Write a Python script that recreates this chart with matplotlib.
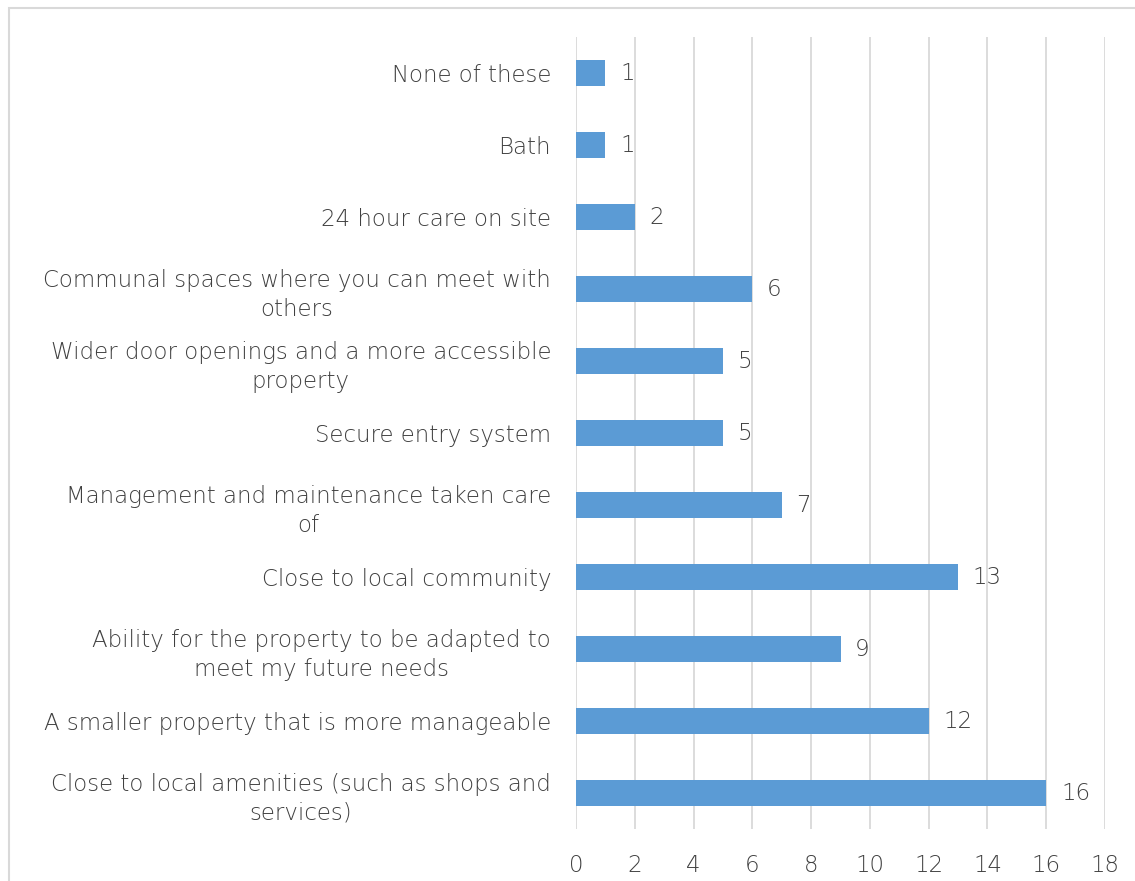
import matplotlib.pyplot as plt
from matplotlib.patches import Rectangle

# survey answers, listed top to bottom as shown
categories = [
    "None of these",
    "Bath",
    "24 hour care on site",
    "Communal spaces where you can meet with\nothers",
    "Wider door openings and a more accessible\nproperty",
    "Secure entry system",
    "Management and maintenance taken care\nof",
    "Close to local community",
    "Ability for the property to be adapted to\nmeet my future needs",
    "A smaller property that is more manageable",
    "Close to local amenities (such as shops and\nservices)",
]
counts = [1, 1, 2, 6, 5, 5, 7, 13, 9, 12, 16]
x_ticks = [0, 2, 4, 6, 8, 10, 12, 14, 16, 18]

bar_color = "#5b9bd5"
text_color = "#404040"
grid_color = "#d9d9d9"

plt.rcParams["font.family"] = ["DejaVu Sans"]
plt.rcParams["font.weight"] = "light"

fig = plt.figure(figsize=(11.35, 8.81), dpi=100)
ax = fig.add_axes([0.5075, 0.059, 0.4661, 0.899])

y = list(range(len(categories)))
bars = ax.barh(y, counts, height=0.35, color=bar_color, zorder=3)

for b, v in zip(bars, counts):
    ax.text(b.get_width() + 0.5, b.get_y() + b.get_height() / 2, str(v),
            va="center", ha="left", fontsize=16.5, color=text_color)

ax.set_ylim(-0.5, len(categories) - 0.5)
ax.invert_yaxis()
ax.set_xlim(0, 18)
ax.set_xticks(x_ticks)
ax.set_yticks(y)
ax.set_yticklabels(categories)
for lab in ax.get_yticklabels():
    lab.set_multialignment("center")
    lab.set_linespacing(1.35)

ax.tick_params(axis="both", length=0, labelsize=16.5, labelcolor=text_color)
ax.tick_params(axis="x", pad=18)
ax.tick_params(axis="y", pad=18)
ax.grid(axis="x", color=grid_color, linewidth=1.3, zorder=0)
for s in ax.spines.values():
    s.set_visible(False)

# outer chart frame
fig.patches.append(Rectangle((9 / 1135, -0.01), 1.1, 1 - 8 / 881 + 0.01,
                             transform=fig.transFigure, fill=False,
                             edgecolor=grid_color, linewidth=1.5))

fig.savefig("out.png", dpi=100)
